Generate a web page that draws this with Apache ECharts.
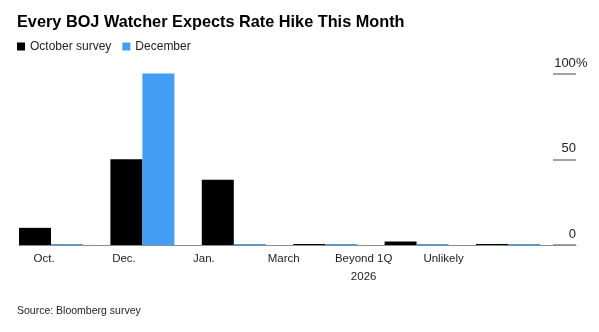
<!DOCTYPE html>
<html>
<head>
<meta charset="utf-8">
<script src="https://cdn.jsdelivr.net/npm/echarts@6/dist/echarts.min.js"></script>
<style>
  html, body { margin: 0; padding: 0; background: #fff; }
  #chart { width: 599px; height: 332px; }
</style>
</head>
<body>
<div id="chart"></div>
<script>
const titleText = 'Every BOJ Watcher Expects Rate Hike This Month';
const sourceText = 'Source: Bloomberg survey';
const categories = ['Oct.', 'Dec.', 'Jan.', 'March', 'Beyond 1Q\n2026', 'Unlikely'];
const seriesNames = ['October survey', 'December'];
const octoberSurvey = [10, 50, 38, 0, 2, 0];
const december = [0, 100, 0, 0, 0, 0];
const yTicks = [0, 50, 100];
const yTickLabels = ['0', '50', '100%'];

const FONT = 'Liberation Sans';
const BLACK = '#000000';
const BLUE = '#429ef5';
const GRAY = '#8c8c8c';

const chart = echarts.init(document.getElementById('chart'), null, { renderer: 'canvas' });

const gridTop = 73.5, gridBottom = 87;
const numW = 22;

const option = {
  animation: false,
  backgroundColor: '#ffffff',
  textStyle: { fontFamily: FONT },
  title: [
    {
      text: titleText, left: 12, top: 10,
      textStyle: { fontFamily: FONT, fontSize: 16.3, fontWeight: 'bold', color: '#000' }
    },
    {
      text: sourceText, left: 12, top: 301,
      textStyle: { fontFamily: FONT, fontSize: 10.5, fontWeight: 'normal', color: '#222' }
    }
  ],
  legend: {
    left: 12, top: 35.5,
    icon: 'rect', itemWidth: 8, itemHeight: 8, itemGap: 11,
    data: seriesNames,
    textStyle: { fontFamily: FONT, fontSize: 12, color: '#222' }
  },
  grid: [
    { left: 19, right: 23, top: gridTop, bottom: gridBottom },
    { left: 5.3, right: 45.3, top: gridTop, bottom: gridBottom },
    { left: 4.1, right: 115.5, top: gridTop, bottom: gridBottom }
  ],
  xAxis: [
    {
      gridIndex: 0, type: 'category', data: categories,
      axisLine: { show: true, lineStyle: { color: GRAY, width: 1.2 } },
      axisTick: { show: false }, axisLabel: { show: false }
    },
    {
      gridIndex: 1, type: 'category', data: categories,
      axisLine: { show: false }, axisTick: { show: false }, axisLabel: { show: false }
    },
    {
      gridIndex: 2, type: 'category', data: categories,
      axisLine: { show: false }, axisTick: { show: false },
      axisLabel: {
        interval: 0, margin: 5, fontFamily: FONT, fontSize: 11.5, lineHeight: 18, color: '#222'
      }
    }
  ],
  yAxis: [
    {
      gridIndex: 0, type: 'value', position: 'right', min: yTicks[0], max: yTicks[yTicks.length - 1],
      interval: yTicks[1] - yTicks[0],
      axisLine: { show: false },
      splitLine: { show: false },
      axisTick: { show: true, inside: true, length: 23, lineStyle: { color: GRAY, width: 1.6 } },
      axisLabel: {
        show: true, inside: false, margin: -numW, align: 'left', verticalAlign: 'bottom',
        padding: [0, 0, 4, 0],
        fontFamily: FONT, fontSize: 13, color: '#222',
        formatter: function (v) {
          const s = yTickLabels[yTicks.indexOf(v)];
          if (s == null) return '';
          const num = s.replace('%', '');
          return '{n|' + num + '}' + (s.endsWith('%') ? '{p|%}' : '');
        },
        rich: {
          n: { width: numW, align: 'right', fontFamily: FONT, fontSize: 13, color: '#222' },
          p: { fontFamily: FONT, fontSize: 13, color: '#222' }
        }
      }
    },
    { gridIndex: 1, type: 'value', min: 0, max: 100, show: false },
    { gridIndex: 2, type: 'value', min: 0, max: 100, show: false }
  ],
  series: [
    {
      name: seriesNames[0], type: 'bar', xAxisIndex: 1, yAxisIndex: 1,
      data: octoberSurvey, barWidth: 32, barGap: '0%', barMinHeight: 1,
      itemStyle: { color: BLACK }, z: 5
    },
    {
      name: seriesNames[1], type: 'bar', xAxisIndex: 1, yAxisIndex: 1,
      data: december, barWidth: 32, barGap: '0%', barMinHeight: 1,
      itemStyle: { color: BLUE }, z: 5
    }
  ]
};

chart.setOption(option);
</script>
</body>
</html>
